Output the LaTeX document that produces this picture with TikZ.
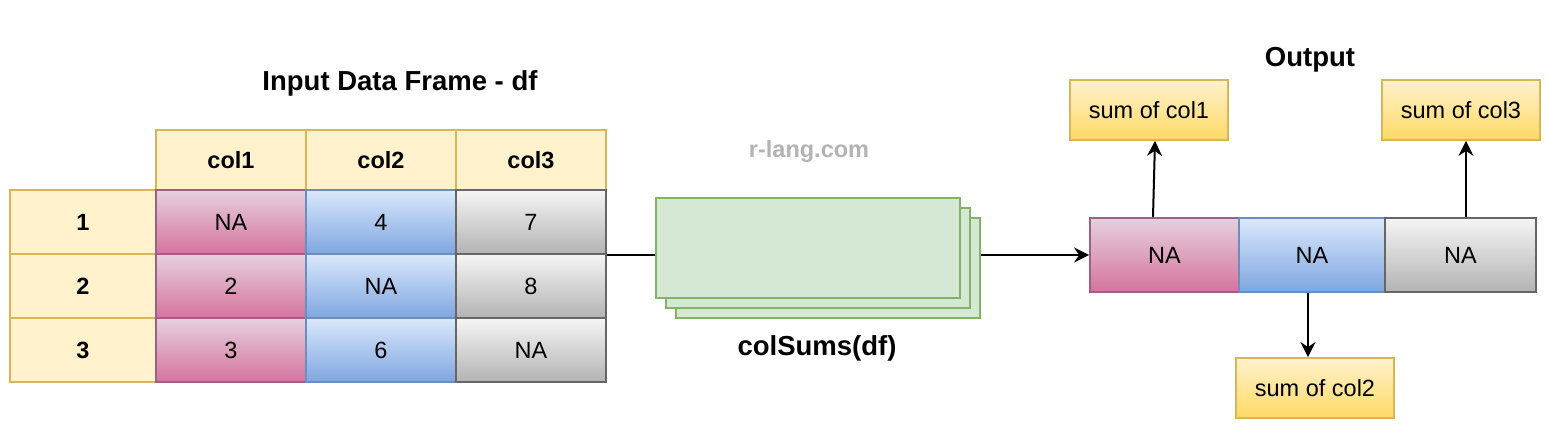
\documentclass[tikz,border=0pt]{standalone}
\usepackage{fontspec}
\setmainfont{Liberation Sans}
\usetikzlibrary{arrows.meta}
\definecolor{hdrfill}{HTML}{FFF2CC}
\definecolor{hdrline}{HTML}{D6B656}
\definecolor{pinktop}{HTML}{E6D0DE}
\definecolor{pinkbot}{HTML}{D5739D}
\definecolor{pinkline}{HTML}{996185}
\definecolor{bluetop}{HTML}{DAE8FC}
\definecolor{bluebot}{HTML}{7EA6E0}
\definecolor{blueline}{HTML}{6C8EBF}
\definecolor{graytop}{HTML}{F5F5F5}
\definecolor{graybot}{HTML}{B3B3B3}
\definecolor{grayline}{HTML}{666666}
\definecolor{yellowbot}{HTML}{FFD966}
\definecolor{greenfill}{HTML}{D5E8D4}
\definecolor{greenline}{HTML}{82B366}
\definecolor{wmgray}{HTML}{B3B3B3}
\newcommand\myreg{\fontsize{23.5}{28}\selectfont}
\newcommand\mybold{\fontsize{23.5}{28}\selectfont\bfseries}
\newcommand\mytitle{\fontsize{27.5}{32}\selectfont\bfseries}
\tikzset{
  cell/.style={draw, line width=1.8pt, inner sep=0pt, minimum width=150pt, minimum height=64pt, font=\myreg},
  hdr/.style={cell, fill=hdrfill, draw=hdrline, font=\mybold},
  pinkc/.style={cell, top color=pinktop, bottom color=pinkbot, draw=pinkline},
  bluec/.style={cell, top color=bluetop, bottom color=bluebot, draw=blueline},
  grayc/.style={cell, top color=graytop, bottom color=graybot, draw=grayline},
  sumbox/.style={draw=hdrline, line width=1.8pt, top color=hdrfill, bottom color=yellowbot, inner sep=0pt, minimum width=158pt, minimum height=60pt, font=\myreg},
  stackbox/.style={draw=greenline, fill=greenfill, line width=1.8pt, inner sep=0pt, minimum width=304pt, minimum height=100pt},
  title/.style={font=\mytitle, inner sep=0pt},
  conn/.style={line width=2pt, black},
  arr/.style={conn, -{Stealth[length=15pt, width=15pt, inset=5pt]}},
}
\begin{document}
\begin{tikzpicture}[x=1pt, y=-1pt]
\useasboundingbox (0,0) rectangle (1548,426);
% titles
\node[title] (tin) at (400,83) {Input Data Frame - df};
\node[title] (tout) at (1310,60) {Output};
\node[title, font=\mybold, text=wmgray] (wm) at (809,151) {r-lang.com};
\node[title] (tfun) at (817,348) {colSums(df)};
% header
\node[hdr, minimum height=60pt] (h1) at (231,160) {col1};
\node[hdr, minimum height=60pt] (h2) at (381,160) {col2};
\node[hdr, minimum height=60pt] (h3) at (531,160) {col3};
% row labels
\node[hdr, minimum width=146pt] (r1) at (83,222) {1};
\node[hdr, minimum width=146pt] (r2) at (83,286) {2};
\node[hdr, minimum width=146pt] (r3) at (83,350) {3};
% cells
\node[pinkc] (c11) at (231,222) {NA};
\node[bluec] (c12) at (381,222) {4};
\node[grayc] (c13) at (531,222) {7};
\node[pinkc] (c21) at (231,286) {2};
\node[bluec] (c22) at (381,286) {NA};
\node[grayc] (c23) at (531,286) {8};
\node[pinkc] (c31) at (231,350) {3};
\node[bluec] (c32) at (381,350) {6};
\node[grayc] (c33) at (531,350) {NA};
% stacked function boxes
\node[stackbox] (g3) at (828,268) {};
\node[stackbox] (g2) at (818,258) {};
\node[stackbox] (g1) at (808,248) {};
% output row
\node[pinkc, minimum width=149pt, minimum height=74pt] (o1) at (1164.5,255) {NA};
\node[bluec, minimum width=146pt, minimum height=74pt] (o2) at (1312,255) {NA};
\node[grayc, minimum width=151pt, minimum height=74pt] (o3) at (1460.5,255) {NA};
% sum boxes
\node[sumbox] (s1) at (1149,110) {sum of col1};
\node[sumbox] (s3) at (1461,110) {sum of col3};
\node[sumbox] (s2) at (1315,388) {sum of col2};
% connectors
\draw[conn] (c13.south east) -- (c13.south east -| g1.west);
\draw[arr] (g3.east |- o1.west) -- (o1.west);
\draw[arr] ([xshift=-11.5pt]o1.north) -- ([xshift=6pt]s1.south);
\draw[arr] ([xshift=5.5pt]o3.north) -- ([xshift=5pt]s3.south);
\draw[arr] ([xshift=-4pt]o2.south) -- ([xshift=-7pt]s2.north);
\end{tikzpicture}
\end{document}
